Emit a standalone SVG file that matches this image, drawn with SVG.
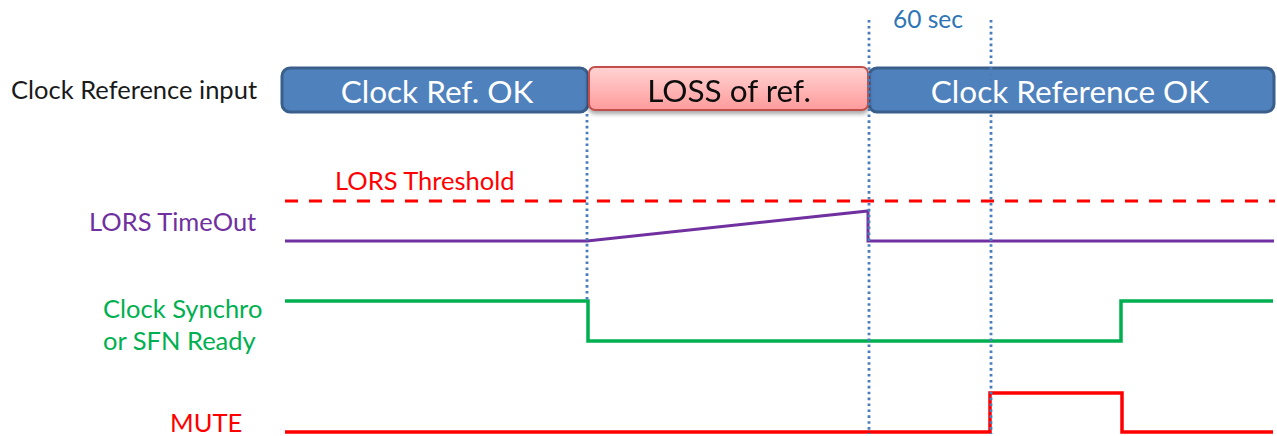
<svg xmlns="http://www.w3.org/2000/svg" width="1277" height="436" viewBox="0 0 1277 436">
<defs>
<linearGradient id="lossGrad" x1="0" y1="0" x2="0" y2="1">
<stop offset="0" stop-color="#FFD3D3"/>
<stop offset="1" stop-color="#FF9B9B"/>
</linearGradient>
<filter id="shadow" x="-5%" y="-20%" width="110%" height="160%">
<feGaussianBlur in="SourceAlpha" stdDeviation="2"/>
<feOffset dx="0" dy="3" result="b"/>
<feComponentTransfer><feFuncA type="linear" slope="0.35"/></feComponentTransfer>
<feMerge><feMergeNode/><feMergeNode in="SourceGraphic"/></feMerge>
</filter>
</defs>
<style>
text { font-family: Lato, "Liberation Sans", sans-serif; }
.blue { fill: #4F81BD; stroke: #3A5F8B; stroke-width: 3; }
.loss { fill: url(#lossGrad); stroke: #C0504D; stroke-width: 2; }
.boxtxt { font-size: 31.5px; text-anchor: middle; }
.lbl { font-size: 25.5px; }
.dot { stroke: #4A7EBB; stroke-width: 2.8; stroke-dasharray: 2.6 3.3; fill: none; }
.sig { fill: none; stroke-linejoin: miter; }
</style>

<g id="label-clock-ref-input"><text class="lbl" x="11" y="99" fill="#1A1A1A">Clock Reference input</text></g>
<g id="label-lors-threshold"><text class="lbl" x="335" y="190" fill="#FF0000">LORS Threshold</text></g>
<g id="label-lors-timeout"><text class="lbl" x="89" y="231" fill="#7030A0">LORS TimeOut</text></g>
<g id="label-clock-synchro"><text class="lbl" x="103" y="318" fill="#00B050">Clock Synchro</text><text class="lbl" x="103" y="350" fill="#00B050">or SFN Ready</text></g>
<g id="label-mute"><text class="lbl" x="170" y="432" fill="#FF0000">MUTE</text></g>
<g id="label-60sec"><text x="893" y="28" font-size="24.5" fill="#2E75B6">60 sec</text></g>

<g id="box-clock-ref-ok"><rect class="blue" x="282" y="68" width="306" height="44" rx="8"/><text class="boxtxt" x="437" y="103" fill="#FFFFFF">Clock Ref. OK</text></g>
<g id="box-clock-reference-ok"><rect class="blue" x="869" y="68" width="405" height="44" rx="8"/><text class="boxtxt" x="1070" y="103" fill="#FFFFFF">Clock Reference  OK</text></g>
<g id="box-loss-of-ref" filter="url(#shadow)"><rect class="loss" x="589" y="67" width="279" height="43" rx="6"/><text class="boxtxt" x="729" y="102" fill="#111111">LOSS of ref.</text></g>

<g id="connectors">
<line x1="285" y1="201" x2="1275" y2="201" stroke="#FF0000" stroke-width="3" stroke-dasharray="13 11"/>
<polyline class="sig" points="285,241 587,241 868,211 868,241 1274,241" stroke="#7030A0" stroke-width="3"/>
<polyline class="sig" points="285,301 588,301 588,341 1121,341 1121,301 1273,301" stroke="#00B050" stroke-width="3.5"/>
<polyline class="sig" points="285,432 990,432 990,393 1122,393 1122,432 1273,432" stroke="#FF0000" stroke-width="3.5"/>
<line class="dot" x1="587" y1="114" x2="587" y2="300"/>
<line class="dot" x1="869" y1="20" x2="869" y2="434"/>
<line class="dot" x1="991" y1="20" x2="991" y2="434"/>
</g>
</svg>
